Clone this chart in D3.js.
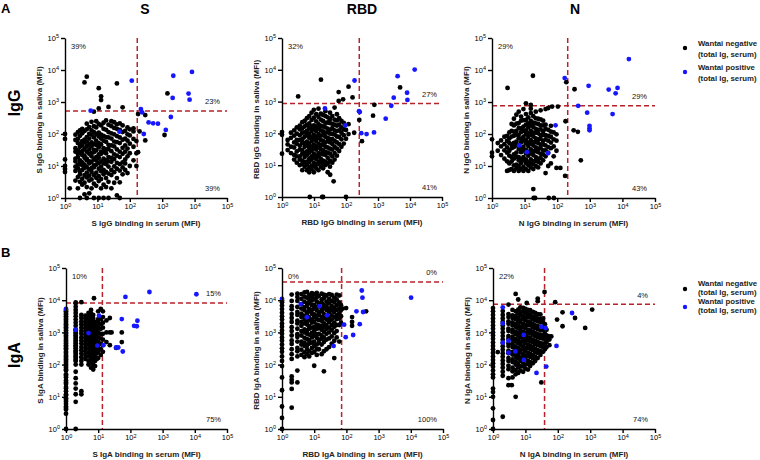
<!DOCTYPE html>
<html><head><meta charset="utf-8">
<script src="https://cdn.jsdelivr.net/npm/d3@7"></script>
<style>body{margin:0;background:#fff} text{font-family:"Liberation Sans",Arial,sans-serif}</style>
</head><body><svg id="c" width="760" height="460"></svg>
<script>
// ---------- DATA (MFI values; columns as [serum, [saliva values...]]) ----------
const antigens = ["S","RBD","N"];
const isotypes = ["IgG","IgA"];
const tickValues = [1,10,100,1000,10000,100000];
const legendLabels = [["Wantai negative","(total Ig, serum)"],["Wantai positive","(total Ig, serum)"]];

const sIgGNeg = [
 [1,[100,70,16,10,8,6.5]],[1.4,[2]],
 [2.1,[3.5,7,9.5,14,17,28,36,65,95]],
 [2.5,[2,4.5,8.5,11,19,24,31,52,70,115]],
 [2.9,[1,3.2,5.5,6.8,12,15,26,40,48,88,130]],
 [3.4,[2.6,4,7.5,10.5,13,22,29,44,60,105,145]],
 [4,[1.3,3,5.2,8.8,11,18,21,35,55,66,125,4100]],
 [4.7,[1,2.2,4.4,6.2,9.2,15,17,28,42,58,80,140,210,6200]],
 [5.6,[1.4,3.5,5,7.8,12,14,24,33,47,72,100,165]],
 [6.6,[2,3.8,6.5,8.5,13.5,20,25,41,55,95,130,240]],
 [7.8,[1,2.8,5.2,9,10.5,16,27,32,49,78,115,175,500]],
 [9.2,[2.4,4.3,6.2,11,15,19,31,45,62,100,160,250]],
 [11,[1,3.4,4.8,8.2,12.5,18,23,38,52,85,110,205,630,2700]],
 [13,[2,3.9,6.8,9.5,14,24,28,47,72,95,185,1150,1500]],
 [15.5,[1,2.6,5.5,7.6,12,17,27,36,62,88,145,225]],
 [18.5,[2.2,4.2,6.5,11.5,15,25,33,57,80,135,265]],
 [22,[1,3.2,5.8,9.6,14,19,34,46,78,115,195,700]],
 [27,[2,5.2,7.5,13.5,18,29,44,72,105,175,250]],
 [33,[3,6.4,9.8,16.5,23,41,58,98,155,235]],
 [40,[1.2,4.2,8.2,12.5,21,33,56,86,145,200,3800]],
 [49,[1,3.1,7.2,11.5,19,28,52,78,135,215]],
 [60,[5.5,9,13,24,37,66,115,185,680]],
 [72,[7.5,12,16,28,44,72,125]],
 [85,[6,20,35,62,98,160]],
 [100,[10,25,50,90,140]],
 [130,[15,40,70,120,150]],
 [160,[10,25,60]],[180,[27,420]],[200,[120]],[300,[390,63]],[1180,[93]],[1450,[1850]]
];
const sIgGPos = [[115,4650],[2200,6600],[8300,8700],[2100,1340],[6500,1830],[7000,1180],[6.2,535],[220,600],[240,475],[380,230],[525,215],[740,210],[1850,340],[1290,134],[270,100],[48,118]];

const rbdIgGNeg = [
 [1,[110,90,23]],[1.5,[30,45,62]],[1.9,[24,38,72,105]],
 [2.4,[15,21,36,52,85,125]],[2.9,[12,19,27,47,63,98,155]],[3.2,[1450]],
 [3.6,[10,15,19,31,41,62,88,135,175]],
 [4.3,[7,11,14,23,30,50,66,105,145,225]],
 [5.1,[9,12.5,18,24,38,49,78,108,165,245]],
 [6,[7,10.5,13,21,27,42,55,88,120,185,300]],
 [7.1,[6,8.5,12.5,16,25,35,46,73,97,145,205,350]],[7.4,[1]],
 [8.4,[7.5,9.5,15,19,29,38,57,76,118,165,265,450]],
 [9.9,[6,9.5,11.5,18,23,34,44,68,92,140,180,310,550]],
 [11.7,[8,10.5,15.5,20,31,39,58,77,120,155,240,400]],
 [13.8,[7,11,12.5,19,24,37,47,72,95,145,195,330,600]],
 [16.3,[9,12.5,16,23,32,43,62,85,125,175,270,420]],[16.5,[4900]],[18,[1]],
 [19.2,[1,8,11,14,22,29,44,58,88,115,165,245,380]],
 [22.7,[10,13,21,26,38,52,78,105,155,215,350,500]],
 [26.8,[6,11.5,17,25,36,57,72,108,140,220,320]],
 [31.6,[9,14,23,33,52,67,98,130,210,280,450]],[32,[5]],
 [37.3,[12,19,31,46,66,95,145,200,350]],[41,[3.1]],
 [44,[15,24,38,58,92,125,190,270,650]],
 [52,[20,33,52,80,118,175,255,400]],[59,[1050,2000]],
 [61,[28,46,77,125,190,300]],
 [72,[38,65,105,155,245]],[81,[1180]],
 [85,[48,88,135,215]],
 [100,[1,68,128]],
 [120,[95,195,2950]],[160,[1350]],[180,[105]],
 [260,[265]],[315,[57]],[700,[360]],[770,[790]],[4900,[2800]]
];
const rbdIgGPos = [[14000,10200],[4100,6300],[185,4600],[8100,1900],[3100,1330],[8300,1130],[2600,740],[22,610],[255,500],[270,470],[1740,290],[95,178],[300,102],[440,95],[750,107]];

const nIgGNeg = [
 [1,[68,26,20]],[1.5,[30,52]],[1.9,[22,41,63]],[2.4,[17,31,48,82]],
 [2.9,[7,14,26,38,61,88]],[3,[2750]],
 [3.4,[7.5,12,21,30,52,72,112]],
 [4,[8,14,19,36,47,83,125,205]],
 [4.7,[7,10.5,17,23,39,53,88,118,185,300]],
 [5.6,[8.5,11,19,26,44,58,95,125,210,400]],
 [6.6,[7,10,15,19,34,45,73,94,155,220,500]],
 [7.8,[8,12.5,16,27,34,55,71,115,150,260,350]],
 [9.2,[7,9.5,15,19,31,40,63,82,125,170,270,600]],
 [11,[8,12.5,16,25,32,51,65,99,130,195,275,420,910]],
 [13,[7,10.5,13,21,27,42,54,82,105,160,215,330]],
 [15.5,[9,12.5,16,25,33,50,64,96,125,185,255,450,620,810]],
 [18,[6600]],[19,[1]],
 [18.5,[1.9,8,11.5,14,22,29,44,56,84,110,165,225,360]],[21,[1]],
 [22,[10,14.5,19,29,38,56,73,110,145,215,310,500]],
 [26,[9,13.5,17,27,35,52,68,105,135,205,300]],
 [31,[12,17.5,24,36,47,70,92,140,185,285,550]],
 [37,[15,23,31,47,61,94,122,185,260]],
 [44,[6,20,31,44,68,92,145,195,600]],[55,[1]],
 [53,[10,26,39,62,88,135,650]],[70,[720]],
 [64,[12,36,54,82,118,180]],[79,[1]],
 [78,[20,41,68,112]],[95,[8.7,30,62,98]],[105,[720]],[125,[8.7]],
 [175,[4.9]],[180,[250]],[190,[4150]],[320,[130]],[340,[2500]],[430,[117]],[530,[15]]
];
const nIgGPos = [[15800,22000],[170,5600],[920,3200],[3800,2450],[7100,2750],[6200,1870],[440,760],[830,465],[5000,420],[980,180],[980,150],[980,130],[89,187],[6.8,44],[11.7,27],[52,25]];

const sIgANeg = [
 [1,[1,3,4,4.5,5,6,7,8,9,11,12,15,18,20,25,28,32,40,45,50,65,70,80,90,100,115,130,145,160,180,200,230,250,290,320,360,400,450,500,560,630,720,800,900,1000,1150,1300,1450,1600,1800,2000,2250,2500,2800,3200,3600,4000,4500,5000]],
 [2,[1,7,12,18,26,38,60,100,130,140,160,180,200,230,250,280,320,360,400,450,500,560,630,720,800,900,1000,1150,1250,1600,2000,2500,3200,4000,5000,6300,8000,8500]],
 [3,[12,15,100,130,170,220,280,350,450,560,700,900,1100,1400,1800,2200,2800,3500,8700]],
 [4,[150,200,260,330,420,530,670,850,1100,1350,1700,2100,2700,3300]],
 [5,[100,130,180,240,320,420,550,700,900,1150,1500,1900,2400,3000,4000]],
 [6,[80,110,150,200,270,350,460,600,780,1000,1300,1700,2200,2900,3800,5000]],
 [7,[70,100,140,190,250,330,430,560,720,950,1250,1600,2100,2700,3500]],[7.4,[11500]],
 [8,[90,130,180,240,320,420,550,720,940,1200,1600,2100]],
 [9,[150,220,300,400,530,700,900,1200,1600]],
 [10,[160,250,350,500,700,1000,1400,2000,2600,4500]],
 [12,[200,300,450,650,900,1300,1800,2600,5400]],
 [14,[250,400,600,900,1400,2000,3000,4500]],
 [18,[500,1000,2350]],[23,[400,1000,2800]],[26,[1000]],[36,[330]],[54,[500,1000]]
];
const sIgAPos = [[1,5350],[2,1210],[5,950],[10.6,3300],[9.4,390],[14.5,400],[54,2600],[70,12600],[390,18000],[11200,15300],[165,2300],[130,1600],[158,1550],[36,340],[42,340],[58,255]];

const rbdIgANeg = [
 [1,[1,2.2,5,16,40,90,130,180,250,320,420,550,700,900,1150,1500,1900,2500,3200,4100,5300,6800,8700,9800]],
 [2,[4.6,17.5,28,34,43,150,210,300,440,560,800,1100,1450,2100,2800,3700,5200,6500,9500,15000]],
 [3,[28,65,180,260,330,520,720,880,1300,1900,2300,3500,4300,6200,9500,12500,16000]],
 [4,[200,290,420,520,800,1100,1600,2100,3000,3800,5500,7600,11000,15500]],
 [5,[170,240,380,480,680,1000,1250,1900,2600,3300,4900,6100,9000,13000,17500]],
 [6,[210,300,400,620,900,1150,1750,2200,3500,4200,6600,8000,12000,18000]],
 [7,[180,260,450,560,850,1300,1550,2400,2900,4500,5300,8300,10500,14500]],
 [8.5,[230,330,480,700,960,1400,2000,2500,3800,5000,7000,9800,13000,16500]],
 [10,[92,250,380,520,800,1100,1450,2100,3000,3600,5600,7200,11000,15500]],
 [12,[200,300,420,680,880,1300,1750,2600,3300,4800,6200,9200,12500,17000]],
 [14,[300,470,600,900,1350,1650,2400,3500,4300,6500,8000,13500]],
 [17,[210,420,640,800,1200,1600,2300,3000,4500,5500,8500,10500,16000]],
 [20,[62,260,500,700,1050,1500,1900,2800,3700,5600,7000,11500,15000]],
 [24,[300,600,900,1300,1700,2500,3300,5000,6500,9000,14000]],
 [29,[350,650,1000,1400,2100,2800,4200,5400,8000,11000,15500]],
 [35,[450,750,1200,1700,2500,3400,4800,6500,9500,14500]],
 [42,[160,550,950,1500,2000,3000,4300,5800,8500,12000]],
 [50,[700,1100,1700,2600,3400,5000,7000,10500,15000]],
 [60,[520,1700,2700,3900,5500,8500,14000]],
 [68,[2000,3200,5000,7000]],
 [77,[5500]],[98,[5700]],[150,[1600,2100,3000]],[410,[4500]]
];
const rbdIgAPos = [[1,11000],[3.8,7600],[14.6,6500],[5.9,2950],[25,3400],[300,20000],[315,12000],[10200,12000],[205,4500],[330,4300],[260,1800],[85,1740],[95,710],[162,830],[40,380]];

const nIgANeg = [
 [1,[1,1.9,4.4,10,14,18,40,50,65,85,110,140,180,230,300,380,490,630,800,1000,1300,1650,2100,2700,3500,4500,5700]],
 [1.4,[245]],
 [2,[2.4,45,60,80,105,135,175,225,290,370,470,600,770,1000,1300,1650,2100,2700,3500,4600]],
 [3,[23,38,72,92,130,160,225,270,380,460,640,770,1100,1300,1850,2200,3000,3700,7300]],[3.8,[23]],
 [4,[40,62,80,120,145,205,250,350,430,590,720,1000,1200,1650,2050,2800,3400,5000]],
 [5,[10,50,68,100,125,175,215,300,370,520,630,880,1050,1500,1850,2600,3200,4500,15700]],
 [6,[55,84,105,155,195,270,330,470,570,800,970,1350,1650,2300,2800,3900,5100,10500]],
 [7,[65,88,130,165,240,290,410,500,700,860,1200,1450,2050,2500,3500,4400,6000]],
 [8.5,[60,88,115,165,210,300,370,520,630,880,1050,1500,1850,2600,3200,4400,5800]],
 [10,[75,100,145,185,260,320,455,560,790,960,1350,1650,2350,2900,4100,5400]],[11,[8200]],
 [12,[70,104,130,185,235,330,410,570,700,980,1200,1700,2150,3000,3700,5000]],
 [14,[90,120,175,220,310,390,540,670,930,1150,1650,2050,2900,3600,4900]],
 [17,[110,155,195,280,350,490,600,850,1050,1450,1800,2550,3100,4300]],
 [20,[130,175,250,310,435,545,770,950,1350,1650,2350,2900,4000]],
 [24,[160,230,280,400,505,700,880,1250,1550,2200,2700,3700,9300,11200]],
 [29,[200,260,370,465,660,830,1160,1450,2050,2600,3600]],[31,[28]],
 [35,[250,350,445,640,800,1150,1450,2050,2700]],[39,[18000]],
 [40,[300,450,650,900,1300,1800]],[45,[350,500,630,800,1200]],[48,[750]],
 [55,[400,600,750]],[63,[750]],[83,[8700]],[95,[2500]],[140,[4200,1550]],
 [340,[2800]],[700,[1380]],[1150,[5100]]
];
const nIgAPos = [[2,6000],[2,1900],[2,480],[3,550],[3,235],[4.9,257],[8.9,830],[9,140],[31,1500],[42,1370],[91,380],[44,87],[22,55],[275,4000]];

// cut-offs [serum, saliva] and quadrant percentages [top-left, top-right, bottom-right]
const sIgGThr = [170,525],   sIgGPct = ["39%","23%","39%"];
const rbdIgGThr = [260,870], rbdIgGPct = ["32%","27%","41%"];
const nIgGThr = [210,760],   nIgGPct = ["29%","29%","43%"];
const sIgAThr = [13.5,8200], sIgAPct = ["10%","15%","75%"];
const rbdIgAThr = [71,37000],rbdIgAPct = ["0%","0%","100%"];
const nIgAThr = [39,7450],   nIgAPct = ["22%","4%","74%"];

// ---------- LAYOUT ----------
const svg = d3.select("#c");
const NEG = "#000000", POS = "#1717ff", THR = "#b8232b";
const R = 2.4;
const panels = [
 {x0:65, x1:227,yt:38, yb:198,ag:"S",  iso:"IgG",neg:sIgGNeg,  pos:sIgGPos,  thr:sIgGThr,  pct:sIgGPct},
 {x0:282,x1:442,yt:38, yb:197,ag:"RBD",iso:"IgG",neg:rbdIgGNeg,pos:rbdIgGPos,thr:rbdIgGThr,pct:rbdIgGPct},
 {x0:492,x1:655,yt:38, yb:198,ag:"N",  iso:"IgG",neg:nIgGNeg,  pos:nIgGPos,  thr:nIgGThr,  pct:nIgGPct},
 {x0:66, x1:227,yt:268,yb:429,ag:"S",  iso:"IgA",neg:sIgANeg,  pos:sIgAPos,  thr:sIgAThr,  pct:sIgAPct},
 {x0:282,x1:443,yt:268,yb:429,ag:"RBD",iso:"IgA",neg:rbdIgANeg,pos:rbdIgAPos,thr:rbdIgAThr,pct:rbdIgAPct},
 {x0:493,x1:655,yt:268,yb:429,ag:"N",  iso:"IgA",neg:nIgANeg,  pos:nIgAPos,  thr:nIgAThr,  pct:nIgAPct}
];

function supLabels(sel){
  sel.selectAll(".tick text").each(function(d){
    const t=d3.select(this); t.text("10");
    t.append("tspan").attr("dy","-0.5em").attr("font-size","5.5px").text(Math.round(Math.log10(d)));
  });
}

panels.forEach(p=>{
  const g = svg.append("g");
  const x = d3.scaleLog().domain([1,1e5]).range([p.x0,p.x1]);
  const y = d3.scaleLog().domain([1,1e5]).range([p.yb,p.yt]);
  // threshold lines
  g.append("line").attr("x1",x(p.thr[0])).attr("x2",x(p.thr[0])).attr("y1",p.yt).attr("y2",p.yb)
    .attr("stroke",THR).attr("stroke-width",1.5).attr("stroke-dasharray","5,3");
  g.append("line").attr("x1",p.x0).attr("x2",p.x1).attr("y1",y(p.thr[1])).attr("y2",y(p.thr[1]))
    .attr("stroke",THR).attr("stroke-width",1.5).attr("stroke-dasharray","5,3");
  // points
  const negPts = p.neg.flatMap(([sx,arr])=>arr.map(v=>[sx,v]));
  g.append("g").selectAll("circle").data(negPts).join("circle")
    .attr("cx",d=>x(d[0])).attr("cy",d=>y(d[1])).attr("r",R).attr("fill",NEG);
  g.append("g").selectAll("circle").data(p.pos).join("circle")
    .attr("cx",d=>x(d[0])).attr("cy",d=>y(d[1])).attr("r",R).attr("fill",POS);
  // axes
  const ax = g.append("g").attr("transform",`translate(0,${p.yb})`)
    .call(d3.axisBottom(x).tickValues(tickValues).tickSize(4).tickSizeOuter(0).tickPadding(2));
  const ay = g.append("g").attr("transform",`translate(${p.x0},0)`)
    .call(d3.axisLeft(y).tickValues(tickValues).tickSize(4).tickSizeOuter(0).tickPadding(2));
  [ax,ay].forEach(a=>{
    a.attr("font-size",7.5).attr("font-family","Liberation Sans, Arial, sans-serif");
    a.selectAll("path,line").attr("stroke","#000").attr("stroke-width",1.4);
    supLabels(a);
  });
  ay.selectAll(".tick text").attr("dy","0.35em");
  // axis titles
  g.append("text").attr("x",(p.x0+p.x1)/2).attr("y",p.yb+28).attr("text-anchor","middle")
    .attr("font-size",8).attr("font-weight","bold").attr("fill","#222")
    .text(`${p.ag} ${p.iso} binding in serum (MFI)`);
  g.append("text").attr("transform",`translate(${p.x0-26},${(p.yt+p.yb)/2+2}) rotate(-90)`)
    .attr("text-anchor","middle").attr("dominant-baseline","central")
    .attr("font-size",8).attr("font-weight","bold").attr("fill","#222")
    .text(`${p.ag} ${p.iso} binding in saliva (MFI)`);
  // percentages
  const pf = {"font-size":7.5,"fill":"#111","dominant-baseline":"central"};
  const addT=(tx,ty,txt,anchor)=>{const t=g.append("text").attr("x",tx).attr("y",ty).attr("text-anchor",anchor).text(txt);
    Object.entries(pf).forEach(([k,v])=>t.attr(k,v));};
  addT(p.x0+6, p.yt+8, p.pct[0], "start");
  addT(p.x0+155, y(p.thr[1])-9, p.pct[1], "end");
  addT(p.x0+155, p.yb-10, p.pct[2], "end");
});

// column titles
[[145,"S"],[362,"RBD"],[575,"N"]].forEach(([cx,t],i)=>{
  svg.append("text").attr("x",cx).attr("y",14).attr("text-anchor","middle")
    .attr("font-size",14).attr("font-weight","bold").text(antigens[i]);
});
// row labels
[[103,isotypes[0]],[355,isotypes[1]]].forEach(([cy,t])=>{
  svg.append("text").attr("transform",`translate(14,${cy}) rotate(-90)`).attr("text-anchor","middle")
    .attr("dominant-baseline","central").attr("font-size",16).attr("font-weight","bold").text(t);
});
svg.append("text").attr("x",1).attr("y",13).attr("font-size",13).attr("font-weight","bold").text("A");
svg.append("text").attr("x",1).attr("y",257).attr("font-size",13).attr("font-weight","bold").text("B");

// legends: [dot y negative, dot y positive, line offset top, line offset bottom]
[[48,72,-2,8.5],[289,307,-3,6]].forEach(([yn,yp,o1,o2])=>{
  [[yn,NEG,legendLabels[0]],[yp,POS,legendLabels[1]]].forEach(([cy,col,lab])=>{
    svg.append("circle").attr("cx",685).attr("cy",cy).attr("r",2.2).attr("fill",col);
    svg.append("text").attr("x",698).attr("y",cy+o1).attr("font-size",7.8).attr("font-weight","bold").attr("fill","#222").text(lab[0]);
    svg.append("text").attr("x",698).attr("y",cy+o2).attr("font-size",7.8).attr("font-weight","bold").attr("fill","#222").text(lab[1]);
  });
});
</script></body></html>
